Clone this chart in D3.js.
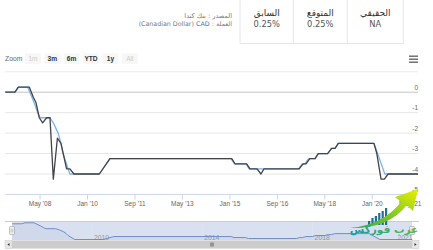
<!DOCTYPE html>
<html><head><meta charset="utf-8">
<script src="https://cdn.jsdelivr.net/npm/d3@7"></script>
<style>body{margin:0;background:#fff}svg{display:block}</style>
</head><body>
<svg id="c" width="433" height="250"></svg>
<script>
// ---- data ----
const headerLabels = ["السابق", "المتوقع", "الحقيقي"];
const headerValues = ["0.25%", "0.25%", "NA"];
const sourceText = "المصدر : بنك كندا";
const zoomButtons = ["1m", "3m", "6m", "YTD", "1y", "All"];
const zoomDisabled = [true, false, false, false, false, true];
const yTicks = [0, -1, -2, -3, -4, -5];
const xTickDates = ["2008-05-01","2010-01-01","2011-09-01","2013-05-01","2015-01-01","2016-09-01","2018-05-01","2020-01-01","2021-05-01"];
const xTickLabels = ["May '08","Jan '10","Sep '11","May '13","Jan '15","Sep '16","May '18","Jan '20","May '21"];
const navYears = ["2010-01-01","2014-01-01","2018-01-01","2021-01-01"];
const navYearLabels = ["2010","2014","2018","2021"];

const darkDates = ["2007-02-10","2007-06-15","2007-07-28","2007-12-15","2008-02-05","2008-03-10","2008-04-22","2008-06-04","2008-07-25","2008-09-06","2008-10-19","2008-12-10","2009-01-25","2009-04-07","2009-05-19","2009-07-10","2010-06-01","2010-10-15","2015-01-25","2015-03-07","2015-08-04","2015-09-15","2015-12-15","2016-02-03","2016-03-13","2017-06-07","2017-07-28","2017-09-03","2017-10-22","2017-12-28","2018-02-07","2018-06-07","2018-07-28","2018-09-10","2018-10-22","2020-01-22","2020-02-28","2020-04-22","2020-06-04","2020-07-22","2021-08-10"];
const darkValues = [0,0,0.25,0.25,-0.25,-0.5,-1.25,-1.5,-1.25,-1.25,-4.25,-2.25,-2.5,-3.75,-3.75,-4,-4,-3.25,-3.25,-3.5,-3.5,-3.75,-3.75,-4,-3.75,-3.75,-3.5,-3.5,-3.25,-3.25,-3,-3,-2.75,-2.75,-2.5,-2.5,-3,-4.25,-4.25,-4,-4];

const blueDates = ["2007-02-10","2007-06-15","2007-07-28","2007-11-25","2008-02-15","2008-04-01","2008-05-01","2008-09-06","2008-10-19","2008-12-20","2009-01-25","2009-02-20","2009-05-19","2010-06-01","2010-10-15","2015-01-15","2015-02-25","2015-07-25","2015-09-05","2017-06-01","2017-07-15","2017-08-20","2017-10-05","2017-12-28","2018-02-07","2018-06-07","2018-07-28","2018-09-10","2018-10-22","2020-01-22","2020-06-10","2021-08-10"];
const blueValues = [0,0,0.25,0.25,-0.5,-1.0,-1.25,-1.25,-1.5,-2.0,-2.5,-3.0,-4,-4,-3.25,-3.25,-3.5,-3.5,-3.75,-3.75,-3.5,-3.5,-3.25,-3.25,-3,-3,-2.75,-2.75,-2.5,-2.5,-4,-4];

// ---- drawing ----
const parse = d3.timeParse("%Y-%m-%d");
const svg = d3.select("#c");
const FONT = "'Liberation Sans', Arial, sans-serif";
const AR = "'DejaVu Sans', sans-serif";

// header table
const colX = [240, 293.3, 347.3, 403.3];
const tbl = svg.append("g");
colX.forEach(x => tbl.append("line").attr("x1", x).attr("x2", x).attr("y1", 0).attr("y2", 43.5).attr("stroke", "#e6e6e6"));
tbl.append("line").attr("x1", 240).attr("x2", 403.3).attr("y1", 43.5).attr("y2", 43.5).attr("stroke", "#e6e6e6");
headerLabels.forEach((t, i) => {
  const cx = (colX[i] + colX[i + 1]) / 2;
  tbl.append("text").attr("x", cx).attr("y", 15.5).attr("text-anchor", "middle")
    .attr("font-family", AR).attr("font-size", 9).attr("fill", "#333").text(t);
  tbl.append("text").attr("x", cx).attr("y", 27).attr("text-anchor", "middle")
    .attr("font-family", "'DejaVu Sans', sans-serif").attr("font-size", 8.3).attr("fill", "#555").text(headerValues[i]);
});
// source / currency
svg.append("text").attr("x", 232).attr("y", 17.5).attr("text-anchor", "end")
  .attr("font-family", AR).attr("font-size", 6.5).attr("fill", "#777").text(sourceText);
{
  const pieces = [["العملة", "#777"], [":", "#777"], ["CAD", "#3b6fb6"], ["(Canadian Dollar)", "#777"]];
  let xr = 232;
  pieces.forEach(([t, c]) => {
    const el = svg.append("text").attr("x", xr).attr("y", 26).attr("text-anchor", "end")
      .attr("font-family", AR).attr("font-size", 6.3).attr("fill", c).text(t);
    xr -= el.node().getComputedTextLength() + 2.2;
  });
}

// zoom buttons
svg.append("text").attr("x", 5).attr("y", 60.5).attr("font-family", FONT).attr("font-size", 6.8).attr("fill", "#666").text("Zoom");
const btnX = [25, 44.3, 63.6, 83, 102.5, 121.8];
zoomButtons.forEach((b, i) => {
  svg.append("rect").attr("x", btnX[i]).attr("y", 53.3).attr("width", 16).attr("height", 10.8).attr("rx", 1.5).attr("fill", "#f7f7f7");
  svg.append("text").attr("x", btnX[i] + 8).attr("y", 60.8).attr("text-anchor", "middle")
    .attr("font-family", FONT).attr("font-size", 6.6).attr("font-weight", zoomDisabled[i] ? "normal" : "bold")
    .attr("fill", zoomDisabled[i] ? "#cccccc" : "#333").text(b);
});
// menu icon
[56.2, 59.2, 62.2].forEach(y => svg.append("line").attr("x1", 409).attr("x2", 418).attr("y1", y).attr("y2", y).attr("stroke", "#666").attr("stroke-width", 1.4));

// scales
const x = d3.scaleTime().domain([parse("2008-05-01"), parse("2020-01-01")]).range([40, 372.3]);
const y = d3.scaleLinear().domain([0, -4]).range([92.2, 174]);
const L = 5, R = 418;

// gridlines
svg.append("line").attr("x1", L).attr("x2", R).attr("y1", y(1)).attr("y2", y(1)).attr("stroke", "#ececec");
yTicks.slice(0, 5).forEach(v => {
  svg.append("line").attr("x1", L).attr("x2", R).attr("y1", y(v)).attr("y2", y(v))
    .attr("stroke", v === 0 ? "#c4c4c4" : "#e6e6e6");
});
// x axis
svg.append("line").attr("x1", L).attr("x2", R).attr("y1", y(-5)).attr("y2", y(-5)).attr("stroke", "#ccd6eb");
xTickDates.forEach((d, i) => {
  const xx = x(parse(d));
  svg.append("line").attr("x1", xx).attr("x2", xx).attr("y1", y(-5)).attr("y2", y(-5) + 5).attr("stroke", "#ccd6eb");
  svg.append("text").attr("x", xx).attr("y", 205.5).attr("text-anchor", "middle")
    .attr("font-family", FONT).attr("font-size", 6.5).attr("fill", "#666").text(xTickLabels[i]);
});
yTicks.forEach(v => {
  svg.append("text").attr("x", 418).attr("y", y(v) - 2.2).attr("text-anchor", "end")
    .attr("font-family", FONT).attr("font-size", 6.5).attr("fill", "#666").text(v);
});

// series
svg.append("clipPath").attr("id", "clip").append("rect").attr("x", L).attr("y", 60).attr("width", R - L).attr("height", 140);
const line = d3.line().x(d => x(d[0])).y(d => y(d[1]));
const blue = blueDates.map((d, i) => [parse(d), blueValues[i]]);
const dark = darkDates.map((d, i) => [parse(d), darkValues[i]]);
const plot = svg.append("g").attr("clip-path", "url(#clip)");
plot.append("path").datum(blue).attr("d", line).attr("fill", "none").attr("stroke", "#7cb5ec").attr("stroke-width", 1.3).attr("stroke-linejoin", "round");
plot.append("path").datum(dark).attr("d", line).attr("fill", "none").attr("stroke", "#434348").attr("stroke-width", 1.3).attr("stroke-linejoin", "round");

// navigator
const NT = 221.5, NB = 240;
const xn = d3.scaleTime().domain([x.invert(L), x.invert(R)]).range([12, 412]);
const yn = d3.scaleLinear().domain([0.25, -4]).range([222.8, 239.5]);
svg.append("rect").attr("x", 12).attr("y", NT).attr("width", 400).attr("height", NB - NT).attr("fill", "rgba(102,133,194,0.25)");
navYears.forEach((d, i) => {
  const xx = xn(parse(d));
  svg.append("line").attr("x1", xx).attr("x2", xx).attr("y1", NT).attr("y2", NB).attr("stroke", "#e0e6f0").attr("stroke-width", 0.8);
  svg.append("text").attr("x", xx + 2).attr("y", 239.5).attr("font-family", FONT).attr("font-size", 6.8).attr("fill", "#999").text(navYearLabels[i]);
});
const nline = d3.line().x(d => xn(d[0])).y(d => yn(d[1]));
const narea = d3.area().x(d => xn(d[0])).y0(NB).y1(d => yn(d[1]));
svg.append("path").datum(blue).attr("d", narea).attr("fill", "rgba(102,133,194,0.08)");
svg.append("path").datum(blue).attr("d", nline).attr("fill", "none").attr("stroke", "#6685c2").attr("stroke-width", 0.9);
svg.append("line").attr("x1", 5).attr("x2", 419).attr("y1", NT).attr("y2", NT).attr("stroke", "#cccccc");
[12, 412].forEach(hx => {
  svg.append("rect").attr("x", hx - 2.5).attr("y", 226.5).attr("width", 5).attr("height", 8).attr("rx", 0.8).attr("fill", "#f2f2f2").attr("stroke", "#999").attr("stroke-width", 0.6);
  [-0.8, 0.8].forEach(o => svg.append("line").attr("x1", hx + o).attr("x2", hx + o).attr("y1", 228.5).attr("y2", 232.5).attr("stroke", "#999").attr("stroke-width", 0.5));
});
// scrollbar
svg.append("rect").attr("x", 5).attr("y", 240.5).attr("width", 414).attr("height", 8).attr("fill", "#f2f2f2");
svg.append("rect").attr("x", 12).attr("y", 240.5).attr("width", 400).attr("height", 8).attr("fill", "#cccccc");
[[5, -1], [412, 1]].forEach(([bx, dir]) => {
  svg.append("rect").attr("x", bx).attr("y", 240.5).attr("width", 7).attr("height", 8).attr("fill", "#e6e6e6").attr("stroke", "#cccccc").attr("stroke-width", 0.5);
  const cx = bx + 3.5, cy = 244.5;
  svg.append("path").attr("d", dir < 0 ? `M${cx+1},${cy-1.5}L${cx-1},${cy}L${cx+1},${cy+1.5}Z` : `M${cx-1},${cy-1.5}L${cx+1},${cy}L${cx-1},${cy+1.5}Z`).attr("fill", "#333");
});
[-1.2, 0, 1.2].forEach(o => svg.append("line").attr("x1", 212 + o).attr("x2", 212 + o).attr("y1", 242.5).attr("y2", 246.5).attr("stroke", "#333").attr("stroke-width", 0.5));

// watermark logo
const defs = svg.append("defs");
const g1 = defs.append("linearGradient").attr("id", "ga").attr("x1", "0").attr("y1", "1").attr("x2", "1").attr("y2", "0");
g1.append("stop").attr("offset", "0").attr("stop-color", "#2aa64a");
g1.append("stop").attr("offset", "0.6").attr("stop-color", "#9ad21c");
g1.append("stop").attr("offset", "1").attr("stop-color", "#e8f000");
const g2 = defs.append("linearGradient").attr("id", "gt").attr("x1", "0").attr("x2", "1");
g2.append("stop").attr("offset", "0").attr("stop-color", "#1a9aa0");
g2.append("stop").attr("offset", "1").attr("stop-color", "#5cb84a");
const logo = svg.append("g");
[4, 7, 9, 12, 14, 17].forEach((h, i) => logo.append("rect").attr("x", 368 + i * 3.4).attr("y", 225 - h).attr("width", 2.2).attr("height", h).attr("fill", "#1f6f98"));
logo.append("path").attr("d", "M350,228 Q383,225 401,202 L395,197 L418,189 L413,211 L407,205 Q388,229 350,228 Z").attr("fill", "url(#ga)");
logo.append("text").attr("x", 384).attr("y", 233).attr("text-anchor", "middle").attr("font-family", AR)
  .attr("font-size", 10.5).attr("font-weight", "bold").attr("fill", "url(#gt)").text("عرب فوركس");
</script>
</body></html>
